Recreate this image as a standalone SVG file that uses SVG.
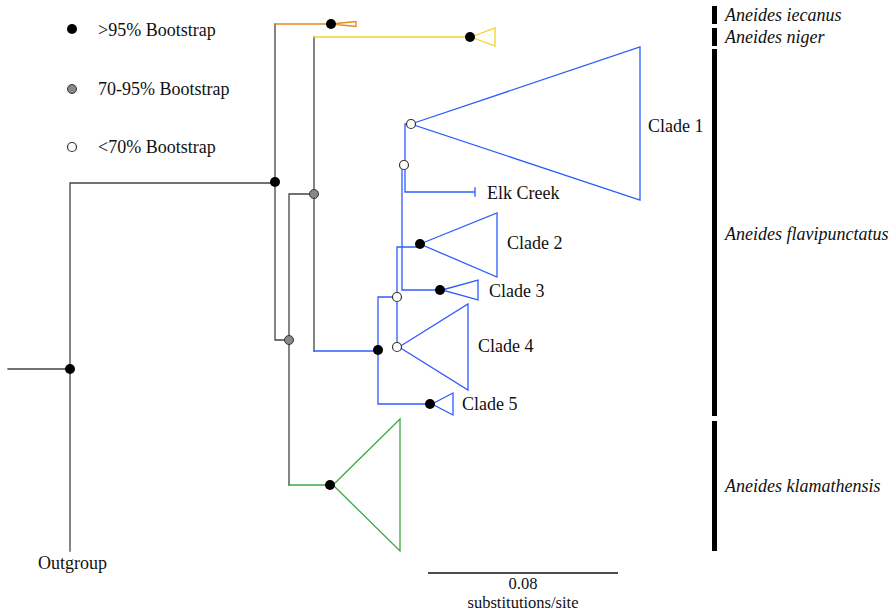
<svg xmlns="http://www.w3.org/2000/svg" width="893" height="616" viewBox="0 0 893 616">
<style>
.t{font-family:'Liberation Serif','Times New Roman',Times,serif;font-size:18px;fill:#111}
.it{font-style:italic}
.e{fill:none;stroke-width:1.3;stroke-linecap:square}
.k{stroke:#444}
.b{stroke:#2f5cff}
.g{stroke:#3aa843}
.y{stroke:#f4d22a}
.o{stroke:#e38b1c}
.n1{fill:#000}
.n2{fill:#888;stroke:#333;stroke-width:1}
.n3{fill:#fff;stroke:#333;stroke-width:1.2}
.bar{fill:#000}
</style>
<rect width="893" height="616" fill="#fff"/>
<g id="connectors">
<path class="e k" d="M8,369H70M70,183V551M70,183H275M275,24V340H289M289,194V485M289,194H314M314,37V351"/>
<path class="e o" d="M275,24H331"/>
<path class="e y" d="M314,37H470"/>
<path class="e g" d="M289,485H330"/>
<path class="e b" d="M314,351H378M378,297V404M378,297H397M378,404H430M397,247V347M397,247H420M402,165V290H440M405,165V124H411M405,165V192H475M475,188V196"/>
</g>
<g id="clade-iecanus"><path class="e o" d="M331,24L356,21.5V26.5Z"/></g>
<g id="clade-niger"><path class="e y" d="M471,37L495,28V46Z"/></g>
<g id="clade1"><path class="e b" d="M411,124L640,47V200Z"/><text class="t" x="648" y="132">Clade 1</text></g>
<g id="elk-creek"><text class="t" x="487" y="199">Elk Creek</text></g>
<g id="clade2"><path class="e b" d="M420,244L497,213V277Z"/><text class="t" x="507" y="249">Clade 2</text></g>
<g id="clade3"><path class="e b" d="M442,290L478,280V300Z"/><text class="t" x="489" y="297">Clade 3</text></g>
<g id="clade4"><path class="e b" d="M399,347L468,304V390Z"/><text class="t" x="478" y="352">Clade 4</text></g>
<g id="clade5"><path class="e b" d="M432,404L453,393V415Z"/><text class="t" x="462" y="410">Clade 5</text></g>
<g id="klamathensis-clade"><path class="e g" d="M333,485L400,419V551Z"/></g>
<g id="outgroup"><text class="t" x="38" y="569">Outgroup</text></g>
<g id="support-nodes">
<circle class="n1" cx="70" cy="369" r="5"/>
<circle class="n1" cx="275" cy="182" r="5"/>
<circle class="n1" cx="331" cy="24" r="5"/>
<circle class="n1" cx="470" cy="37" r="5"/>
<circle class="n2" cx="314" cy="194" r="4.5"/>
<circle class="n2" cx="289" cy="340" r="4.5"/>
<circle class="n1" cx="330" cy="485" r="5"/>
<circle class="n1" cx="378" cy="350" r="5"/>
<circle class="n3" cx="411" cy="124" r="4.5"/>
<circle class="n3" cx="404" cy="165" r="4.5"/>
<circle class="n1" cx="420" cy="244" r="5"/>
<circle class="n1" cx="440" cy="290" r="5"/>
<circle class="n3" cx="397" cy="297" r="4.5"/>
<circle class="n3" cx="397" cy="347" r="4.5"/>
<circle class="n1" cx="430" cy="404" r="5"/>
</g>
<g id="legend">
<circle class="n1" cx="72" cy="29" r="5"/><text class="t" x="98" y="36">&gt;95% Bootstrap</text>
<circle class="n2" cx="72" cy="89" r="4.5"/><text class="t" x="98" y="95">70-95% Bootstrap</text>
<circle class="n3" cx="72" cy="147" r="4.5"/><text class="t" x="98" y="153">&lt;70% Bootstrap</text>
</g>
<g id="species-bars">
<rect class="bar" x="712" y="6" width="5" height="18"/><text class="t it" x="725" y="21">Aneides iecanus</text>
<rect class="bar" x="712" y="28" width="5" height="18"/><text class="t it" x="725" y="43">Aneides niger</text>
<rect class="bar" x="712" y="49" width="5" height="367"/><text class="t it" x="725" y="240">Aneides flavipunctatus</text>
<rect class="bar" x="712" y="421" width="5" height="130"/><text class="t it" x="725" y="492">Aneides klamathensis</text>
</g>
<g id="scale-bar">
<path d="M428,573H618" stroke="#111" stroke-width="1.5"/>
<text class="t" x="523" y="589" text-anchor="middle" style="font-size:16.5px">0.08</text>
<text class="t" x="523" y="608" text-anchor="middle" style="font-size:16.5px">substitutions/site</text>
</g>
</svg>
